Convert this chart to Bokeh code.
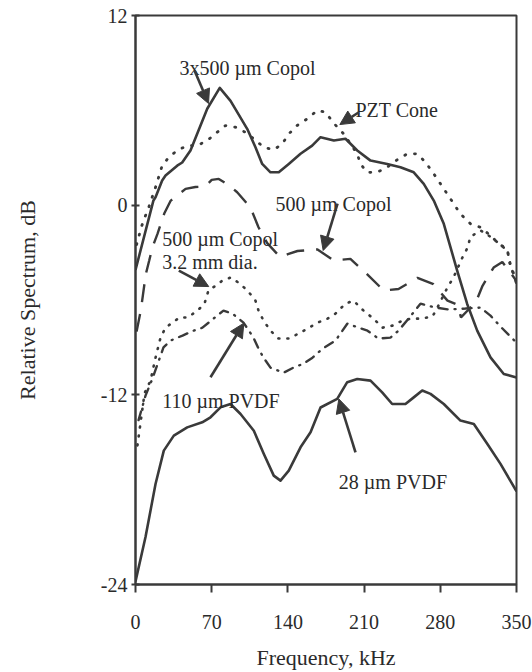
from bokeh.plotting import figure
from bokeh.models import Range1d, FixedTicker, ColumnDataSource, Arrow, NormalHead
from bokeh.core.properties import value
from bokeh.embed import file_html
from bokeh.resources import INLINE

# ---------------- data ----------------
freq_copol3 = [0, 16.5, 18.4, 24.5, 27.6, 38.3, 42.9, 50.5, 65.9, 77.4, 87.3, 102.6, 110.2, 116.4, 124,
               131.6, 140.8, 151.6, 162.3, 170, 182.2, 192.9, 203.7, 215.9, 231.2, 243.4, 255.6, 264.8,
               274, 283.2, 295.5, 304.7, 313.9, 326.1, 338.3, 350]
db_copol3 = [-4.1, 0.3, 0.5, 1.56, 1.87, 2.5, 2.7, 3.46, 6.1, 7.42, 6.6, 4.83, 3.66, 2.61, 2.08,
             2.08, 2.61, 3.25, 3.77, 4.3, 4.09, 4.2, 3.46, 2.82, 2.61, 2.4, 2.08, 1.35,
             0.29, -1.18, -4.14, -6.25, -7.94, -9.63, -10.68, -10.9]

freq_pzt = [1.0, 5.5, 9.2, 12.2, 15.3, 18.4, 24.5, 30.6, 38.3, 47.5, 56.7, 65.9, 75, 82.7, 91.9, 101,
            108.7, 117.9, 127, 134.8, 140.8, 148.5, 157.7, 166.9, 174.5, 182.2, 191.3, 203.7, 206.7,
            212.8, 222, 231.2, 240.4, 249.6, 258.8, 266.4, 274, 280.2, 286.3, 292.4, 298.5, 307.7,
            316.9, 326.1, 333.7, 341.4, 344.5, 347.5, 350]
db_pzt = [-2.5, -1.35, -0.66, -0.13, 0.5, 1.13, 2.5, 3.03, 3.46, 3.77, 3.77, 4.09, 4.61, 5.04, 4.93, 4.61,
          4.2, 3.66, 3.5, 3.88, 4.51, 5.04, 5.46, 5.99, 5.88, 5.18, 4.51, 3.25, 2.61,
          2.08, 2.08, 2.4, 2.87, 3.25, 3.25, 2.72, 1.98, 1.35, 0.72, 0.08, -0.55, -1.18,
          -1.4, -1.92, -2.45, -2.77, -3.8, -4.35, -4.96]

freq_copol = [1, 5, 9.5, 12.6, 15.6, 20.2, 26.4, 32.4, 46, 55, 64, 70, 76.5, 85, 93.4, 105.6, 113, 121,
              133, 140, 148.8, 167.2, 182, 197.4, 211.3, 228, 241.6, 259, 273.7, 286.6, 295.8, 299,
              306, 312.3, 318.8, 329, 337, 342.6, 350]
db_copol = [-8, -6.6, -4.35, -3.5, -2.66, -1.82, -0.53, 0.29, 1.03, 1.15, 1.18, 1.6, 1.66, 1.3, 0.82, -0.15,
            -1.4, -2.4, -3.3, -3.1, -2.9, -2.8, -3.5, -3.4, -4.27, -5.4, -5.3, -4.6, -5.0, -6.04, -6.3,
            -7.1, -6.6, -6.2, -5.1, -3.95, -3.6, -4.1, -4.8]

freq_copol_small = [1.8, 8.3, 13.8, 18.4, 23, 27.6, 34, 40.4, 47.8, 57, 63.4, 67, 73.5, 79.9, 87.3, 94.6,
                    102.9, 110.2, 113, 117.6, 124, 131.4, 140.5, 149.7, 158, 167.2, 176.4, 183.7, 192.9,
                    200.3, 209.4, 218.6, 226.9, 236.1, 245.3, 252.6, 261.8, 272.8, 277.4, 286.6, 292.1,
                    300.4, 305, 307.7, 316.9, 326.1, 335.3, 341.7, 344.5, 348.1, 350]
db_copol_small = [-15.2, -11.9, -11.1, -9.65, -8.38, -7.75, -7.43, -7.11, -7.11, -6.67, -6.23, -5.4, -5.1,
                  -4.77, -4.58, -4.9, -5.4, -6.04, -6.67, -7.3, -7.94, -8.44, -8.44, -8.13, -7.81, -7.43,
                  -7.18, -6.86, -6.23, -6.04, -6.67, -7.18, -7.75, -7.62, -7.3, -7.18, -7.18, -7.05,
                  -6.48, -5.2, -4.58, -3.3, -2.7, -2.0, -1.6, -2.0, -2.5, -2.9, -3.9, -4.5, -5.0]

freq_pvdf110 = [2.8, 9.2, 15.6, 25.7, 32.2, 43.2, 53.3, 61.5, 71.6, 80.8, 89.1, 99.2, 108.4, 113, 117.6,
                124, 136, 145.1, 154.3, 162.6, 171.8, 183.7, 194.7, 204.8, 213.1, 223.2, 234.2, 241.6,
                250.8, 261.8, 275.6, 287.5, 303.1, 316.9, 326.1, 335.3, 350]
db_pvdf110 = [-13.6, -12.05, -10.97, -9.0, -8.57, -8.25, -7.94, -7.75, -7.18, -6.67, -6.86, -7.43, -8.38,
              -9.08, -9.65, -10.28, -10.6, -10.28, -10.03, -9.65, -9.08, -8.57, -7.49, -7.75, -7.94,
              -8.44, -8.38, -7.94, -7.18, -6.23, -6.48, -6.6, -6.54, -6.48, -6.99, -7.68, -8.7]

freq_pvdf28 = [0, 9.2, 18.4, 26, 35.2, 47.5, 61.3, 68.9, 78.1, 87.3, 96.5, 108.7, 117.9, 127, 133.2, 140.8,
               151.6, 160.8, 170, 185.3, 194.5, 203.7, 215.9, 226.6, 235.8, 248, 255.6, 263.4, 271,
               283.2, 298.5, 310.8, 323.1, 335.3, 350]
db_pvdf28 = [-23.8, -21.0, -17.64, -15.53, -14.58, -14.06, -13.74, -13.42, -12.79, -12.58, -13.21, -14.27,
             -15.74, -17.11, -17.43, -16.8, -15.32, -14.37, -12.8, -12.26, -11.2, -11.0, -11.1, -11.84,
             -12.58, -12.58, -12.16, -11.73, -11.94, -12.58, -13.63, -13.84, -15.1, -16.37, -18.1]

x_ticks = [0, 70, 140, 210, 280, 350]
y_ticks = [-24, -12, 0, 12]
y_tick_labels = ["-24", "-12", "0", "12"]

label_text = ["3x500 µm Copol", "PZT Cone", "500 µm Copol", "500 µm Copol", "3.2 mm dia.",
              "110 µm PVDF", "28 µm PVDF"]
label_x = [40.4, 202.1, 128.6, 24.5, 24.5, 24.5, 186.8]
label_y = [8.71, 5.99, 0.1, -2.11, -3.61, -12.37, -17.54]

arrow_x0 = [54.2, 205.2, 185.6, 39.8, 68.9, 202.1]
arrow_y0 = [8.52, 5.88, 0.1, -4.14, -10.89, -15.64]
arrow_x1 = [67.1, 187.7, 172.4, 67.3, 99.5, 186.8]
arrow_y1 = [6.43, 5.1, -2.87, -5.15, -7.47, -12.26]

# ---------------- figure ----------------
INK = "#3a3a3a"
FONT = "Liberation Serif"

p = figure(width=532, height=672, output_backend="svg", toolbar_location=None,
           x_range=Range1d(0, 350), y_range=Range1d(-24, 12),
           min_border_left=135, min_border_right=16, min_border_top=15, min_border_bottom=87)
p.background_fill_color = "white"
p.border_fill_color = "white"
p.outline_line_color = INK
p.outline_line_width = 2
p.xgrid.visible = False
p.ygrid.visible = False

# axes
p.xaxis.ticker = FixedTicker(ticks=x_ticks)
p.yaxis.ticker = FixedTicker(ticks=y_ticks)
p.yaxis.major_label_overrides = {t: s for t, s in zip(y_ticks, y_tick_labels)}
for ax in (p.xaxis[0], p.yaxis[0]):
    ax.axis_line_color = INK
    ax.axis_line_width = 2
    ax.major_tick_line_color = INK
    ax.major_tick_line_width = 2
    ax.minor_tick_line_color = None
    ax.major_label_text_font = FONT
    ax.major_label_text_font_size = "20px"
    ax.major_label_text_color = "#2a2a2a"
    ax.axis_label_text_font = FONT
    ax.axis_label_text_font_size = "22px"
    ax.axis_label_text_font_style = "normal"
    ax.axis_label_text_color = "#2a2a2a"

p.xaxis.axis_label = "Frequency, kHz"
p.xaxis.major_tick_in = 0
p.xaxis.major_tick_out = 8
p.xaxis.major_label_standoff = 22
p.xaxis.axis_label_standoff = 13

p.yaxis.axis_label = "Relative Spectrum, dB"
p.yaxis.major_tick_in = 4
p.yaxis.major_tick_out = 4
p.yaxis.major_label_standoff = 4
p.yaxis.axis_label_standoff = 58

# series
p.line(freq_copol3, db_copol3, line_color=INK, line_width=2.6, line_join="round")
p.line(freq_pvdf28, db_pvdf28, line_color=INK, line_width=2.6, line_join="round")
p.line(freq_pzt, db_pzt, line_color=INK, line_width=2.8, line_dash="1 9", line_cap="round")
p.line(freq_copol_small, db_copol_small, line_color=INK, line_width=2.6, line_dash="1 8", line_cap="round")
p.line(freq_copol, db_copol, line_color=INK, line_width=2.4, line_dash="18 12")
p.line(freq_pvdf110, db_pvdf110, line_color=INK, line_width=2.4, line_dash="9 7 1 7", line_cap="round")

# annotations
arrow_src = ColumnDataSource(dict(x0=arrow_x0, y0=arrow_y0, x1=arrow_x1, y1=arrow_y1))
p.add_layout(Arrow(end=NormalHead(size=14, fill_color=INK, line_color=INK),
                   x_start="x0", y_start="y0", x_end="x1", y_end="y1",
                   source=arrow_src, line_color=INK, line_width=2.6))

label_src = ColumnDataSource(dict(x=label_x, y=label_y, t=label_text))
p.text(x="x", y="y", text="t", source=label_src, text_font=value(FONT),
       text_font_size="20px", text_color="#2a2a2a", text_align="left",
       text_baseline="alphabetic")

open("out.html", "w").write(file_html(p, INLINE))
